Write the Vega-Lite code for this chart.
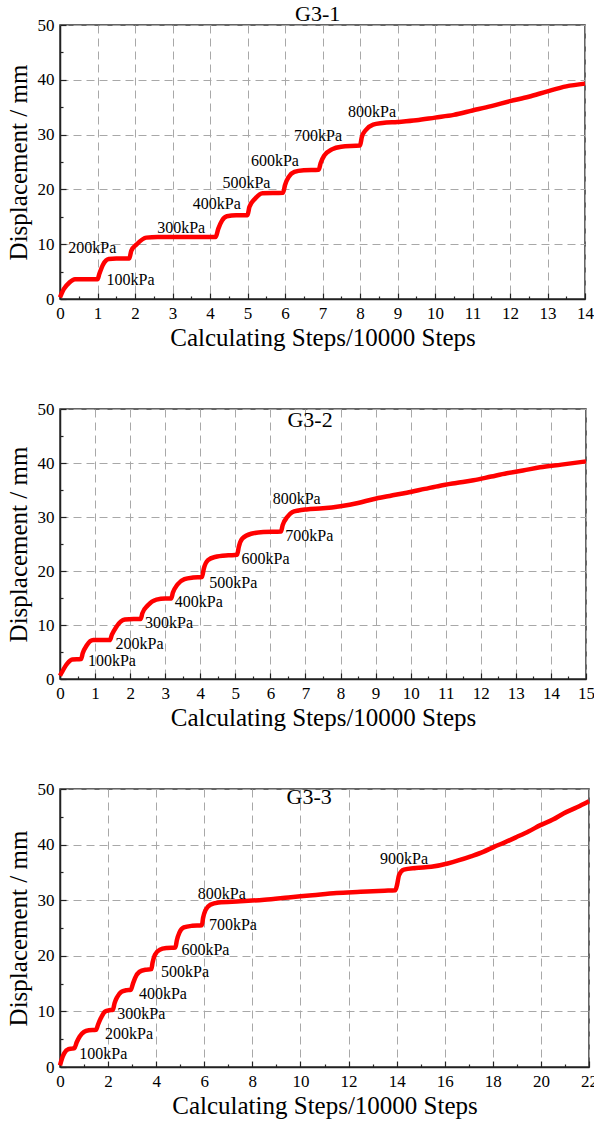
{
  "$schema": "https://vega.github.io/schema/vega-lite/v6.json",
  "padding": {"left": 5, "top": 2, "right": 0, "bottom": 0},
  "bounds": "flush",
  "spacing": 110,
  "config": {
    "font": "Liberation Serif",
    "view": {"stroke": "#333", "strokeWidth": 1.5},
    "axis": {
      "labelFont": "Liberation Serif", "labelFontSize": 17, "labelColor": "#000",
      "titleFont": "Liberation Serif", "titleFontSize": 25, "titleFontWeight": "normal", "titleColor": "#000",
      "domainColor": "#222", "domainWidth": 1.5, "tickColor": "#222", "tickWidth": 1.2,
      "gridColor": "#a8a8a8", "gridDash": [8, 5], "gridWidth": 1,
      "labelPadding": 12, "labelFlush": false, "labelOverlap": false, "format": "d"
    },
    "axisX": {"titlePadding": 1},
    "axisY": {"titlePadding": 6},
    "text": {"font": "Liberation Serif", "color": "#000"}
  },
  "datasets": {
    "g1": [
      {"x":0,"y":0.3},{"x":0.1,"y":1.8},{"x":0.25,"y":3.0},{"x":0.4,"y":3.6},{"x":0.7,"y":3.6},{"x":1.0,"y":3.6},{"x":1.05,"y":4.6},{"x":1.15,"y":6.3},{"x":1.3,"y":7.3},{"x":1.5,"y":7.4},{"x":1.85,"y":7.4},{"x":1.9,"y":8.8},{"x":2.05,"y":10.0},{"x":2.3,"y":11.2},{"x":2.6,"y":11.3},{"x":3.5,"y":11.3},{"x":4.15,"y":11.3},{"x":4.22,"y":12.8},{"x":4.32,"y":14.3},{"x":4.45,"y":15.1},{"x":4.7,"y":15.3},{"x":5.0,"y":15.3},{"x":5.05,"y":16.8},{"x":5.2,"y":18.3},{"x":5.4,"y":19.3},{"x":5.95,"y":19.4},{"x":6.0,"y":20.8},{"x":6.1,"y":22.3},{"x":6.25,"y":23.2},{"x":6.5,"y":23.5},{"x":6.9,"y":23.6},{"x":6.95,"y":24.8},{"x":7.05,"y":26.2},{"x":7.25,"y":27.3},{"x":7.5,"y":27.8},{"x":8.0,"y":28.0},{"x":8.05,"y":29.6},{"x":8.15,"y":30.8},{"x":8.35,"y":31.8},{"x":8.6,"y":32.1},{"x":9.0,"y":32.3},{"x":9.5,"y":32.6},{"x":10.0,"y":33.1},{"x":10.5,"y":33.6},{"x":11.0,"y":34.4},{"x":11.5,"y":35.2},{"x":12.0,"y":36.1},{"x":12.5,"y":36.9},{"x":13.0,"y":37.9},{"x":13.5,"y":38.8},{"x":14.0,"y":39.3}
    ],
    "g2": [
      {"x":0,"y":0.6},{"x":0.05,"y":1.2},{"x":0.2,"y":2.8},{"x":0.35,"y":3.6},{"x":0.6,"y":3.7},{"x":0.65,"y":4.8},{"x":0.76,"y":6.2},{"x":0.95,"y":7.2},{"x":1.2,"y":7.2},{"x":1.42,"y":7.2},{"x":1.48,"y":8.2},{"x":1.6,"y":9.6},{"x":1.85,"y":11.0},{"x":2.1,"y":11.1},{"x":2.3,"y":11.1},{"x":2.35,"y":12.2},{"x":2.5,"y":13.6},{"x":2.75,"y":14.7},{"x":3.0,"y":14.9},{"x":3.17,"y":14.9},{"x":3.22,"y":16.0},{"x":3.35,"y":17.5},{"x":3.55,"y":18.5},{"x":3.8,"y":18.8},{"x":4.05,"y":18.9},{"x":4.1,"y":20.4},{"x":4.22,"y":22.0},{"x":4.42,"y":22.6},{"x":4.8,"y":22.9},{"x":5.05,"y":23.0},{"x":5.1,"y":24.5},{"x":5.2,"y":26.0},{"x":5.45,"y":26.9},{"x":5.8,"y":27.2},{"x":6.3,"y":27.3},{"x":6.35,"y":28.5},{"x":6.48,"y":30.0},{"x":6.62,"y":30.9},{"x":6.8,"y":31.2},{"x":7.03,"y":31.4},{"x":7.5,"y":31.6},{"x":8.0,"y":32.0},{"x":8.5,"y":32.6},{"x":8.93,"y":33.3},{"x":9.4,"y":33.9},{"x":9.89,"y":34.5},{"x":10.4,"y":35.2},{"x":10.84,"y":35.8},{"x":11.3,"y":36.3},{"x":11.79,"y":36.8},{"x":12.3,"y":37.5},{"x":12.74,"y":38.1},{"x":13.2,"y":38.6},{"x":13.69,"y":39.2},{"x":14.3,"y":39.7},{"x":15.0,"y":40.3}
    ],
    "g3": [
      {"x":0,"y":0.3},{"x":0.08,"y":1.5},{"x":0.18,"y":2.5},{"x":0.35,"y":3.2},{"x":0.5,"y":3.3},{"x":0.6,"y":3.4},{"x":0.7,"y":4.5},{"x":0.82,"y":5.5},{"x":1.0,"y":6.3},{"x":1.2,"y":6.6},{"x":1.5,"y":6.7},{"x":1.58,"y":7.6},{"x":1.7,"y":8.8},{"x":1.88,"y":10.0},{"x":2.05,"y":10.2},{"x":2.2,"y":10.3},{"x":2.27,"y":11.5},{"x":2.38,"y":12.6},{"x":2.55,"y":13.5},{"x":2.75,"y":13.8},{"x":2.95,"y":13.9},{"x":3.02,"y":14.8},{"x":3.12,"y":16.0},{"x":3.3,"y":17.1},{"x":3.55,"y":17.5},{"x":3.8,"y":17.6},{"x":3.85,"y":18.8},{"x":3.95,"y":20.2},{"x":4.15,"y":21.1},{"x":4.45,"y":21.4},{"x":4.8,"y":21.5},{"x":4.86,"y":22.8},{"x":4.97,"y":24.2},{"x":5.15,"y":25.1},{"x":5.5,"y":25.4},{"x":5.9,"y":25.5},{"x":5.95,"y":26.8},{"x":6.05,"y":28.2},{"x":6.25,"y":29.2},{"x":6.6,"y":29.6},{"x":7.5,"y":29.8},{"x":8.5,"y":30.1},{"x":9.5,"y":30.5},{"x":10.5,"y":30.9},{"x":11.5,"y":31.3},{"x":12.5,"y":31.5},{"x":13.5,"y":31.7},{"x":13.95,"y":31.8},{"x":14.02,"y":32.8},{"x":14.1,"y":34.5},{"x":14.3,"y":35.5},{"x":14.8,"y":35.8},{"x":15.44,"y":36.0},{"x":16.12,"y":36.6},{"x":16.6,"y":37.2},{"x":17.09,"y":37.9},{"x":17.6,"y":38.7},{"x":18.05,"y":39.6},{"x":18.5,"y":40.4},{"x":19.01,"y":41.4},{"x":19.5,"y":42.4},{"x":19.98,"y":43.5},{"x":20.5,"y":44.5},{"x":20.94,"y":45.6},{"x":21.5,"y":46.7},{"x":22.0,"y":47.8}
    ],
    "l1": [
      {"x":0.86,"y":9.3,"label":"200kPa"},{"x":1.88,"y":3.5,"label":"100kPa"},{"x":3.23,"y":13.0,"label":"300kPa"},{"x":4.18,"y":17.3,"label":"400kPa"},{"x":4.97,"y":21.2,"label":"500kPa"},{"x":5.73,"y":25.2,"label":"600kPa"},{"x":6.88,"y":29.7,"label":"700kPa"},{"x":8.32,"y":34.2,"label":"800kPa"}
    ],
    "l2": [
      {"x":1.48,"y":3.4,"label":"100kPa"},{"x":2.27,"y":6.5,"label":"200kPa"},{"x":3.11,"y":10.3,"label":"300kPa"},{"x":3.96,"y":14.2,"label":"400kPa"},{"x":4.94,"y":17.8,"label":"500kPa"},{"x":5.86,"y":22.3,"label":"600kPa"},{"x":7.11,"y":26.4,"label":"700kPa"},{"x":6.75,"y":33.3,"label":"800kPa"}
    ],
    "l3": [
      {"x":1.8,"y":2.4,"label":"100kPa"},{"x":2.87,"y":6.0,"label":"200kPa"},{"x":3.38,"y":9.6,"label":"300kPa"},{"x":4.28,"y":13.2,"label":"400kPa"},{"x":5.2,"y":17.1,"label":"500kPa"},{"x":6.05,"y":21.0,"label":"600kPa"},{"x":7.19,"y":25.6,"label":"700kPa"},{"x":6.73,"y":31.2,"label":"800kPa"},{"x":14.31,"y":37.4,"label":"900kPa"}
    ],
    "t1": [{"x":6.87,"y":52.0,"label":"G3-1"}],
    "t2": [{"x":7.13,"y":48.0,"label":"G3-2"}],
    "t3": [{"x":10.36,"y":48.5,"label":"G3-3"}]
  },
  "vconcat": [
    {
      "width": 525, "height": 274,
      "encoding": {
        "x": {"field": "x", "type": "quantitative",
          "scale": {"domain": [0, 14], "nice": false, "zero": false},
          "axis": {"title": "Calculating Steps/10000 Steps",
            "values": [0,0.5,1,1.5,2,2.5,3,3.5,4,4.5,5,5.5,6,6.5,7,7.5,8,8.5,9,9.5,10,10.5,11,11.5,12,12.5,13,13.5,14],
            "labelExpr": "datum.value % 1 === 0 ? datum.label : ''",
            "tickSize": {"condition": {"test": "datum.value % 1 !== 0", "value": -3}, "value": -6},
            "gridOpacity": {"condition": {"test": "datum.value % 1 !== 0", "value": 0}, "value": 1}}},
        "y": {"field": "y", "type": "quantitative",
          "scale": {"domain": [0, 50], "nice": false, "zero": false},
          "axis": {"title": "Displacement / mm",
            "values": [0,5,10,15,20,25,30,35,40,45,50],
            "labelExpr": "datum.value % 10 === 0 ? datum.label : ''",
            "tickSize": {"condition": {"test": "datum.value % 10 !== 0", "value": -3}, "value": -6},
            "gridOpacity": {"condition": {"test": "datum.value % 10 !== 0", "value": 0}, "value": 1}}}
      },
      "layer": [
        {"data": {"name": "g1"}, "mark": {"type": "line", "color": "#ff0000", "strokeWidth": 4.5, "interpolate": "monotone"}},
        {"data": {"name": "l1"}, "mark": {"type": "text", "fontSize": 16, "align": "center", "baseline": "middle"}, "encoding": {"text": {"field": "label"}}},
        {"data": {"name": "t1"}, "mark": {"type": "text", "fontSize": 22, "align": "center", "baseline": "middle"}, "encoding": {"text": {"field": "label"}}}
      ]
    },
    {
      "width": 526, "height": 270,
      "encoding": {
        "x": {"field": "x", "type": "quantitative",
          "scale": {"domain": [0, 15], "nice": false, "zero": false},
          "axis": {"title": "Calculating Steps/10000 Steps",
            "values": [0,0.5,1,1.5,2,2.5,3,3.5,4,4.5,5,5.5,6,6.5,7,7.5,8,8.5,9,9.5,10,10.5,11,11.5,12,12.5,13,13.5,14,14.5,15],
            "labelExpr": "datum.value % 1 === 0 ? datum.label : ''",
            "tickSize": {"condition": {"test": "datum.value % 1 !== 0", "value": -3}, "value": -6},
            "gridOpacity": {"condition": {"test": "datum.value % 1 !== 0", "value": 0}, "value": 1}}},
        "y": {"field": "y", "type": "quantitative",
          "scale": {"domain": [0, 50], "nice": false, "zero": false},
          "axis": {"title": "Displacement / mm",
            "values": [0,5,10,15,20,25,30,35,40,45,50],
            "labelExpr": "datum.value % 10 === 0 ? datum.label : ''",
            "tickSize": {"condition": {"test": "datum.value % 10 !== 0", "value": -3}, "value": -6},
            "gridOpacity": {"condition": {"test": "datum.value % 10 !== 0", "value": 0}, "value": 1}}}
      },
      "layer": [
        {"data": {"name": "g2"}, "mark": {"type": "line", "color": "#ff0000", "strokeWidth": 4.5, "interpolate": "monotone"}},
        {"data": {"name": "l2"}, "mark": {"type": "text", "fontSize": 16, "align": "center", "baseline": "middle"}, "encoding": {"text": {"field": "label"}}},
        {"data": {"name": "t2"}, "mark": {"type": "text", "fontSize": 22, "align": "center", "baseline": "middle"}, "encoding": {"text": {"field": "label"}}}
      ]
    },
    {
      "width": 529, "height": 278,
      "encoding": {
        "x": {"field": "x", "type": "quantitative",
          "scale": {"domain": [0, 22], "nice": false, "zero": false},
          "axis": {"title": "Calculating Steps/10000 Steps",
            "values": [0,1,2,3,4,5,6,7,8,9,10,11,12,13,14,15,16,17,18,19,20,21,22],
            "labelExpr": "datum.value % 2 === 0 ? datum.label : ''",
            "tickSize": {"condition": {"test": "datum.value % 2 !== 0", "value": -3}, "value": -6},
            "gridOpacity": {"condition": {"test": "datum.value % 2 !== 0", "value": 0}, "value": 1}}},
        "y": {"field": "y", "type": "quantitative",
          "scale": {"domain": [0, 50], "nice": false, "zero": false},
          "axis": {"title": "Displacement / mm",
            "values": [0,5,10,15,20,25,30,35,40,45,50],
            "labelExpr": "datum.value % 10 === 0 ? datum.label : ''",
            "tickSize": {"condition": {"test": "datum.value % 10 !== 0", "value": -3}, "value": -6},
            "gridOpacity": {"condition": {"test": "datum.value % 10 !== 0", "value": 0}, "value": 1}}}
      },
      "layer": [
        {"data": {"name": "g3"}, "mark": {"type": "line", "color": "#ff0000", "strokeWidth": 4.5, "interpolate": "monotone"}},
        {"data": {"name": "l3"}, "mark": {"type": "text", "fontSize": 16, "align": "center", "baseline": "middle"}, "encoding": {"text": {"field": "label"}}},
        {"data": {"name": "t3"}, "mark": {"type": "text", "fontSize": 22, "align": "center", "baseline": "middle"}, "encoding": {"text": {"field": "label"}}}
      ]
    }
  ]
}
